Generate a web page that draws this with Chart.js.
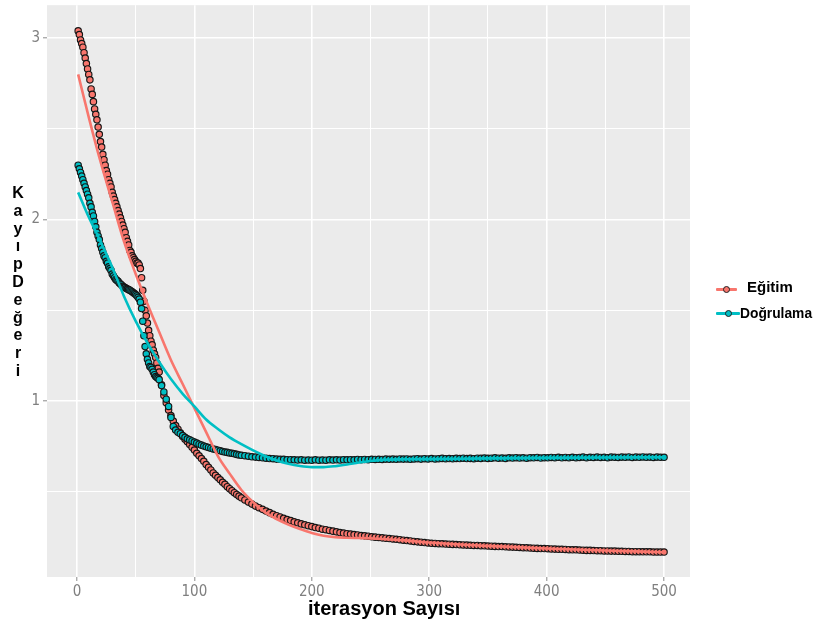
<!DOCTYPE html>
<html>
<head>
<meta charset="utf-8">
<script src="https://cdn.jsdelivr.net/npm/chart.js@4.4.1/dist/chart.umd.min.js"></script>
<style>
  html, body { margin: 0; padding: 0; background: #fff; }
  #wrap { position: relative; width: 816px; height: 630px; overflow: hidden; }
  #plot { position: absolute; left: 0; top: 0; }
  #ytitle {
    position: absolute; left: 6px; top: 184px; width: 24px;
    text-align: center; color: #000;
    font: bold 16px 'Liberation Sans', Arial, sans-serif; line-height: 17.8px;
  }
  #xtitle {
    position: absolute; left: 308px; top: 596px; white-space: nowrap; color: #000;
    font: bold 20px 'Liberation Sans', Arial, sans-serif; line-height: 24px;
  }
  .lg-row { position: absolute; height: 20px; }
  .lg-line { position: absolute; height: 3px; border-radius: 1px; }
  .lg-dot { position: absolute; width: 5px; height: 5px; border-radius: 50%; border: 1px solid #222; }
  .lg-text { position: absolute; white-space: nowrap; color: #000; font-weight: bold;
             font-family: 'Liberation Sans', Arial, sans-serif; }
</style>
</head>
<body>
<div id="wrap">
  <canvas id="plot" width="816" height="630"></canvas>
  <div id="ytitle"></div>
  <div id="xtitle"></div>
  <div id="legend"></div>
</div>
<script>
// ---- series names, colours, axis titles ----
const seriesNames = ['Eğitim', 'Doğrulama'];
const seriesColors = ['#F8766D', '#00BFC4'];
const xTitle = 'iterasyon Sayısı';
const yTitle = 'Kayıp Değeri';

// ---- tick positions ----
const xTicks = [0, 50, 100, 150, 200, 250, 300, 350, 400, 450, 500];
const yTicks = [0.5, 1, 1.5, 2, 2.5, 3];

// ---- iteration sampling: every iteration up to 70, every 2nd up to 140, every 3rd after ----
const iterSteps = [[1, 70, 1], [72, 140, 2], [143, 500, 3]];

// ---- Eğitim loss per sampled iteration ----
const egitimA = [
  3.04, 3.02, 2.99, 2.97, 2.95, 2.92, 2.89, 2.86, 2.83, 2.80,
  2.77, 2.72, 2.69, 2.65, 2.61, 2.58, 2.55, 2.51, 2.47, 2.43,
  2.40, 2.36, 2.33, 2.30, 2.27, 2.25, 2.22, 2.20, 2.18, 2.15,
  2.13, 2.11, 2.09, 2.07, 2.05, 2.03, 2.01, 1.99, 1.97, 1.95,
  1.93, 1.90, 1.88, 1.86, 1.83, 1.82, 1.80, 1.79, 1.78, 1.77,
  1.76, 1.76, 1.75, 1.73, 1.68, 1.61, 1.55, 1.50, 1.47, 1.43,
  1.39, 1.36, 1.33, 1.31, 1.28, 1.26, 1.24, 1.21, 1.18, 1.16
];
const egitimB = [
  1.09, 1.03, 0.99, 0.95, 0.92, 0.89, 0.865, 0.845, 0.825, 0.805,
  0.79, 0.775, 0.76, 0.745, 0.73, 0.712, 0.698, 0.683, 0.668, 0.650,
  0.635, 0.620, 0.604, 0.591, 0.578, 0.566, 0.552, 0.541, 0.528, 0.517,
  0.506, 0.495, 0.485, 0.476, 0.467
];
const egitimC = [
  0.455, 0.443, 0.432, 0.421, 0.412, 0.403, 0.394, 0.385, 0.376, 0.368,
  0.361, 0.354, 0.347, 0.341, 0.334, 0.329, 0.323, 0.318, 0.313, 0.308,
  0.303, 0.299, 0.294, 0.291, 0.287, 0.283, 0.279, 0.275, 0.272, 0.269,
  0.267, 0.264, 0.262, 0.259, 0.257, 0.255, 0.252, 0.250, 0.248, 0.246,
  0.244, 0.242, 0.240, 0.238, 0.236, 0.233, 0.231, 0.229, 0.226, 0.224,
  0.222, 0.220, 0.218, 0.216, 0.215, 0.214, 0.213, 0.212, 0.211, 0.210,
  0.209, 0.208, 0.207, 0.206, 0.205, 0.204, 0.204, 0.203, 0.202, 0.201,
  0.200, 0.199, 0.198, 0.198, 0.197, 0.196, 0.195, 0.194, 0.193, 0.192,
  0.191, 0.190, 0.189, 0.188, 0.187, 0.187, 0.186, 0.185, 0.184, 0.183,
  0.183, 0.182, 0.181, 0.180, 0.180, 0.179, 0.178, 0.177, 0.177, 0.176,
  0.175, 0.175, 0.174, 0.174, 0.173, 0.173, 0.172, 0.172, 0.171, 0.171,
  0.170, 0.170, 0.170, 0.169, 0.169, 0.169, 0.168, 0.168, 0.168, 0.168
];

// ---- Doğrulama loss per sampled iteration ----
const dogrulamaA = [
  2.30, 2.28, 2.26, 2.24, 2.22, 2.20, 2.18, 2.16, 2.14, 2.12,
  2.09, 2.07, 2.04, 2.02, 1.99, 1.96, 1.93, 1.91, 1.89, 1.86,
  1.84, 1.82, 1.80, 1.79, 1.77, 1.76, 1.74, 1.73, 1.72, 1.70,
  1.69, 1.68, 1.67, 1.665, 1.66, 1.65, 1.645, 1.64, 1.632, 1.628,
  1.625, 1.62, 1.617, 1.614, 1.611, 1.607, 1.602, 1.597, 1.592, 1.587,
  1.58, 1.572, 1.562, 1.545, 1.51, 1.44, 1.36, 1.30, 1.26, 1.23,
  1.21, 1.19, 1.185, 1.175, 1.16, 1.145, 1.135, 1.13, 1.125, 1.118
];
const dogrulamaB = [
  1.085, 1.05, 1.01, 0.97, 0.91, 0.86, 0.84, 0.828, 0.82, 0.81,
  0.80, 0.792, 0.786, 0.78, 0.774, 0.768, 0.762, 0.757, 0.752, 0.748,
  0.744, 0.740, 0.736, 0.733, 0.729, 0.726, 0.722, 0.719, 0.717, 0.714,
  0.712, 0.709, 0.706, 0.703, 0.701
];
const dogrulamaC = [
  0.699, 0.696, 0.693, 0.691, 0.689, 0.687, 0.685, 0.683, 0.682, 0.680,
  0.679, 0.679, 0.677, 0.677, 0.676, 0.675, 0.676, 0.674, 0.675, 0.674,
  0.676, 0.674, 0.675, 0.674, 0.676, 0.675, 0.676, 0.675, 0.677, 0.676,
  0.677, 0.676, 0.678, 0.677, 0.678, 0.677, 0.679, 0.678, 0.679, 0.678,
  0.680, 0.679, 0.680, 0.679, 0.681, 0.680, 0.681, 0.679, 0.681, 0.682,
  0.680, 0.682, 0.681, 0.683, 0.681, 0.682, 0.684, 0.682, 0.683, 0.682,
  0.684, 0.683, 0.685, 0.683, 0.684, 0.682, 0.685, 0.684, 0.686, 0.684,
  0.685, 0.687, 0.685, 0.686, 0.684, 0.687, 0.686, 0.688, 0.686, 0.687,
  0.685, 0.688, 0.687, 0.689, 0.686, 0.688, 0.687, 0.689, 0.688, 0.690,
  0.687, 0.689, 0.688, 0.690, 0.688, 0.689, 0.691, 0.688, 0.690, 0.689,
  0.691, 0.689, 0.690, 0.688, 0.691, 0.690, 0.689, 0.691, 0.690, 0.692,
  0.689, 0.691, 0.690, 0.692, 0.690, 0.691, 0.689, 0.691, 0.690, 0.690
];

// ---- smoothed trend curves ----
const trendIter = [1, 10, 20, 30, 40, 50, 60, 70, 80, 90, 100, 110, 120, 130, 140, 150, 160, 170,
                   180, 190, 200, 210, 220, 230, 240, 250, 260, 280, 300, 350, 400, 450, 500];
const egitimTrend = [2.80, 2.565, 2.32, 2.10, 1.88, 1.70, 1.535, 1.38, 1.226, 1.094, 0.961, 0.829,
                     0.697, 0.60, 0.51, 0.443, 0.388, 0.35, 0.32, 0.295, 0.273, 0.258, 0.250, 0.247,
                     0.245, 0.243, 0.240, 0.232, 0.220, 0.202, 0.187, 0.176, 0.167];
const dogrulamaTrend = [2.15, 2.014, 1.88, 1.737, 1.578, 1.44, 1.32, 1.215, 1.121, 1.04, 0.97, 0.898,
                        0.846, 0.80, 0.762, 0.728, 0.697, 0.672, 0.654, 0.642, 0.636, 0.636, 0.641,
                        0.650, 0.661, 0.670, 0.676, 0.679, 0.680, 0.684, 0.687, 0.689, 0.690];

// ---- build point lists ----
function iterationsFor(steps) {
  const out = [];
  for (const [a, b, s] of steps) for (let i = a; i <= b; i += s) out.push(i);
  return out;
}
const iterations = iterationsFor(iterSteps);
const egitim = egitimA.concat(egitimB, egitimC);
const dogrulama = dogrulamaA.concat(dogrulamaB, dogrulamaC);
const toXY = (xs, ys) => xs.map((x, i) => ({ x: x, y: ys[i] }));

// ---- axis titles and legend as HTML text ----
document.getElementById('ytitle').innerHTML =
  yTitle.replace(/\s+/g, '').split('').map(c => '<div>' + c + '</div>').join('');
document.getElementById('xtitle').textContent = xTitle;

const legendRows = [
  { top: 277, lineL: 716, lineW: 21, textL: 747, size: 15, lineY: 12 },
  { top: 304, lineL: 716, lineW: 24, textL: 740, size: 13.8, lineY: 9 }
];
document.getElementById('legend').innerHTML = legendRows.map((r, i) =>
  '<div class="lg-row" style="left:0;top:' + r.top + 'px;width:816px">' +
  '<div class="lg-line" style="left:' + r.lineL + 'px;top:' + (r.lineY - 1) + 'px;width:' + r.lineW + 'px;background:' + seriesColors[i] + '"></div>' +
  '<div class="lg-dot" style="left:' + (r.lineL + r.lineW / 2 - 3.5) + 'px;top:' + (r.lineY - 3) + 'px;background:' + seriesColors[i] + '"></div>' +
  '<div class="lg-text" style="left:' + r.textL + 'px;top:0;font-size:' + r.size + 'px;line-height:20px">' + seriesNames[i] + '</div>' +
  '</div>').join('');

// ---- grey panel behind the grid ----
const panelBackground = {
  id: 'panelBackground',
  beforeDraw(chart) {
    const { ctx, chartArea: a } = chart;
    ctx.save();
    ctx.fillStyle = '#EBEBEB';
    ctx.fillRect(a.left, a.top, a.right - a.left, a.bottom - a.top);
    ctx.restore();
  }
};

const tickFont = { family: "'Liberation Sans Narrow', 'DejaVu Sans Condensed', 'Liberation Sans', sans-serif", size: 15 };
const isMajor = v => Math.abs(v - Math.round(v)) < 1e-9;

new Chart(document.getElementById('plot'), {
  type: 'scatter',
  data: {
    datasets: [
      {
        label: seriesNames[1] + ' trend', data: toXY(trendIter, dogrulamaTrend), showLine: true,
        borderColor: seriesColors[1], borderWidth: 2.6, pointRadius: 0, pointHoverRadius: 0,
        cubicInterpolationMode: 'monotone', order: 1
      },
      {
        label: seriesNames[0] + ' trend', data: toXY(trendIter, egitimTrend), showLine: true,
        borderColor: seriesColors[0], borderWidth: 2.6, pointRadius: 0, pointHoverRadius: 0,
        cubicInterpolationMode: 'monotone', order: 2
      },
      {
        label: seriesNames[1], data: toXY(iterations, dogrulama), showLine: false,
        pointRadius: 3.2, pointBorderWidth: 1.15, pointBorderColor: '#161616',
        pointBackgroundColor: seriesColors[1], order: 3
      },
      {
        label: seriesNames[0], data: toXY(iterations, egitim), showLine: false,
        pointRadius: 3.2, pointBorderWidth: 1.15, pointBorderColor: '#161616',
        pointBackgroundColor: seriesColors[0], order: 4
      }
    ]
  },
  options: {
    responsive: false,
    animation: false,
    events: [],
    layout: { padding: { top: 5, right: 126, left: 0, bottom: 0 } },
    plugins: { legend: { display: false }, tooltip: { enabled: false } },
    scales: {
      x: {
        type: 'linear', min: -25.55, max: 522.1,
        afterBuildTicks: s => { s.ticks = xTicks.map(v => ({ value: v })); },
        afterFit: s => { s.height = 53; s.paddingLeft = 0; s.paddingRight = 0; },
        border: { display: false },
        grid: {
          color: '#FFFFFF',
          lineWidth: c => (c.tick && c.tick.value % 100 === 0) ? 1.6 : 1,
          tickColor: c => (c.tick && c.tick.value % 100 === 0) ? '#8a8a8a' : 'rgba(0,0,0,0)',
          tickLength: 4, tickWidth: 1
        },
        ticks: {
          autoSkip: false, maxRotation: 0, padding: 2, color: '#7f7f7f', font: tickFont,
          callback: v => (v % 100 === 0 ? String(v) : '')
        }
      },
      y: {
        type: 'linear', min: 0.0303, max: 3.1818,
        afterBuildTicks: s => { s.ticks = yTicks.map(v => ({ value: v })); },
        afterFit: s => { s.width = 47; s.paddingTop = 0; s.paddingBottom = 0; },
        border: { display: false },
        grid: {
          color: '#FFFFFF',
          lineWidth: c => (c.tick && isMajor(c.tick.value)) ? 1.6 : 1,
          tickColor: c => (c.tick && isMajor(c.tick.value)) ? '#8a8a8a' : 'rgba(0,0,0,0)',
          tickLength: 4, tickWidth: 1
        },
        ticks: {
          autoSkip: false, padding: 3, color: '#7f7f7f', font: tickFont,
          callback: v => (isMajor(v) ? String(v) : '')
        }
      }
    }
  },
  plugins: [panelBackground]
});
</script>
</body>
</html>
